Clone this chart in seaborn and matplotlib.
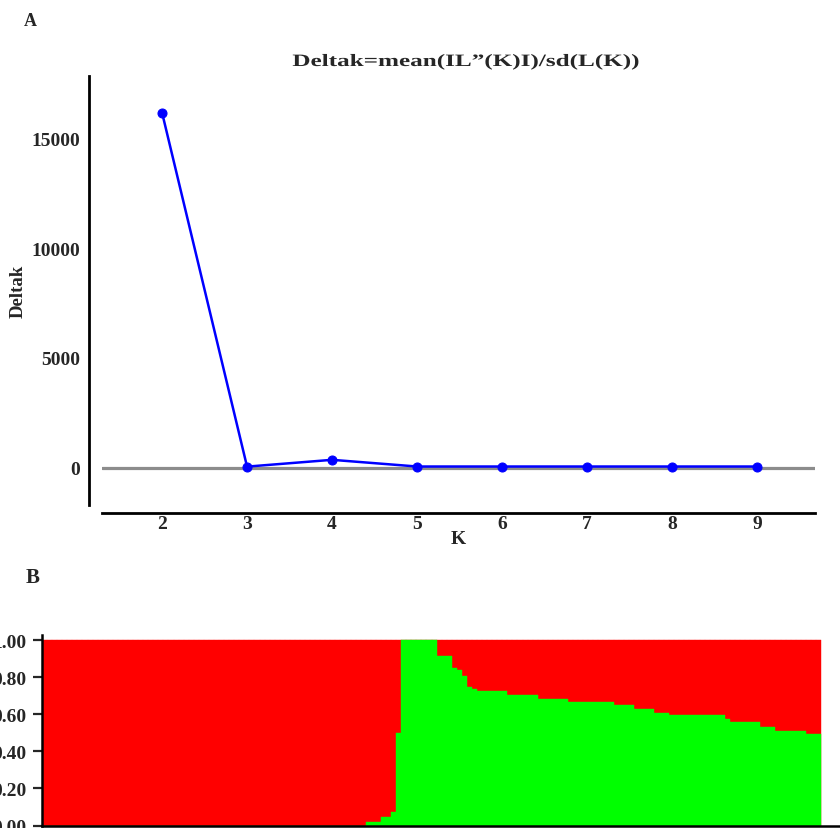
import numpy as np
import pandas as pd
import matplotlib
matplotlib.use("Agg")
import matplotlib.pyplot as plt
import matplotlib.patheffects as pe
from matplotlib.transforms import Affine2D
import seaborn as sns

# ---------------- data ----------------
k_values = [2, 3, 4, 5, 6, 7, 8, 9]
delta_k = [16180, 40, 350, 45, 45, 45, 45, 45]
k_ticks = [2, 3, 4, 5, 6, 7, 8, 9]
delta_ticks = [0, 5000, 10000, 15000]

# STRUCTURE (K=2) green-cluster membership, run-length encoded (value, number of individuals)
green_levels = [0.0, 0.018, 0.047, 0.072, 0.50, 1.00, 0.917, 0.849, 0.838, 0.809, 0.750,
                0.740, 0.726, 0.706, 0.685, 0.669, 0.649, 0.632, 0.610, 0.596, 0.575,
                0.557, 0.533, 0.512, 0.494]
level_counts = [64, 3, 2, 1, 1, 7, 3, 1, 1, 1, 1,
                1, 6, 6, 6, 9, 4, 4, 3, 11, 1,
                6, 3, 6, 3]
q_ticks = [0.0, 0.2, 0.4, 0.6, 0.8, 1.0]

title_text = "Deltak=mean(IL\u201d(K)I)/sd(L(K))"

# ---------------- style ----------------
sns.set_style("white")
plt.rcParams["font.family"] = ["Liberation Serif", "DejaVu Serif"]
plt.rcParams["font.weight"] = "bold"
plt.rcParams["axes.labelweight"] = "bold"


class StretchX(pe.AbstractPathEffect):
    def __init__(self, sx):
        super().__init__()
        self.sx = sx

    def draw_path(self, renderer, gc, tpath, affine, rgbFace=None):
        ext = tpath.get_extents(affine)
        cx = 0.5 * (ext.x0 + ext.x1)
        aff = affine + Affine2D().translate(-cx, 0).scale(self.sx, 1.0).translate(cx, 0)
        renderer.draw_path(gc, tpath, aff, rgbFace)


W, H = 840, 829
fig = plt.figure(figsize=(W / 100, H / 100), dpi=100)

# ---------------- panel A ----------------
ax1 = fig.add_axes([102 / W, (H - 506) / H, 713 / W, 429 / H])
dfA = pd.DataFrame({"K": k_values, "DeltaK": delta_k})
ax1.axhline(0, color="#8c8c8c", lw=2.3, zorder=1)
sns.lineplot(data=dfA, x="K", y="DeltaK", ax=ax1, color="#0000ff", lw=1.8,
             marker="o", markersize=6.5, markeredgecolor="#0000ff", zorder=3)
for s in ["top", "right"]:
    ax1.spines[s].set_visible(False)
ax1.spines["left"].set_position(("outward", 13 * 0.72))
ax1.spines["bottom"].set_position(("outward", 8 * 0.72))
for s in ["left", "bottom"]:
    ax1.spines[s].set_linewidth(2.0)
    ax1.spines[s].set_color("black")
ax1.set_xlim(1.294, 9.68)
ax1.set_ylim(-1709, 17844)
ax1.set_xticks(k_ticks)
ax1.set_yticks(delta_ticks)
ax1.set_xticklabels([str(k) for k in k_ticks])
ax1.set_yticklabels([str(v) for v in delta_ticks])
ax1.tick_params(axis="both", length=0, labelsize=14)
ax1.tick_params(axis="y", pad=6.5)
ax1.tick_params(axis="x", pad=1.5)
ax1.set_xlabel("K", fontsize=14, fontweight="bold")
ax1.set_ylabel("Deltak", fontsize=13.5, fontweight="bold")
ax1.xaxis.set_label_coords(0.5, -0.058)
ax1.yaxis.set_label_coords(-0.105, 0.5)

fig.text(466 / W, 1 - 63 / H, title_text, ha="center", va="center",
         fontsize=12.5, fontweight="bold", path_effects=[StretchX(1.45)])
fig.text(30 / W, 1 - 22 / H, "A", ha="center", va="center", fontsize=13, fontweight="bold")
fig.text(33 / W, 1 - 578 / H, "B", ha="center", va="center", fontsize=15, fontweight="bold")

# ---------------- panel B ----------------
green = np.repeat(green_levels, level_counts)
n_ind = len(green)
dfB = pd.DataFrame({"ind": np.arange(n_ind), "red": np.ones(n_ind), "green": green})

ax2 = fig.add_axes([42 / W, (H - 826.5) / H, 798 / W, (826.5 - 635.7) / H])
sns.barplot(data=dfB, x="ind", y="red", ax=ax2, color="#ff0000", saturation=1,
            width=1.0, edgecolor="#ff0000", linewidth=0.3, native_scale=True)
sns.barplot(data=dfB, x="ind", y="green", ax=ax2, color="#00ff00", saturation=1,
            width=1.0, edgecolor="#00ff00", linewidth=0.3, native_scale=True)
px_per_ind = 779 / n_ind
ax2.set_xlim(-0.5, -0.5 + 798 / px_per_ind)
ax2.set_ylim(0, 1.031)
ax2.set_xticks([])
ax2.set_yticks(q_ticks)
ax2.set_yticklabels([f"{v:.2f}" for v in q_ticks])
ax2.tick_params(axis="y", length=6.5, width=1.6, direction="out", pad=4.5, left=True,
                labelsize=14)
ax2.set_xlabel("")
ax2.set_ylabel("")
for s in ["top", "right"]:
    ax2.spines[s].set_visible(False)
for s in ["left", "bottom"]:
    ax2.spines[s].set_linewidth(1.8)
    ax2.spines[s].set_color("black")

fig.savefig("out.png", dpi=100)
